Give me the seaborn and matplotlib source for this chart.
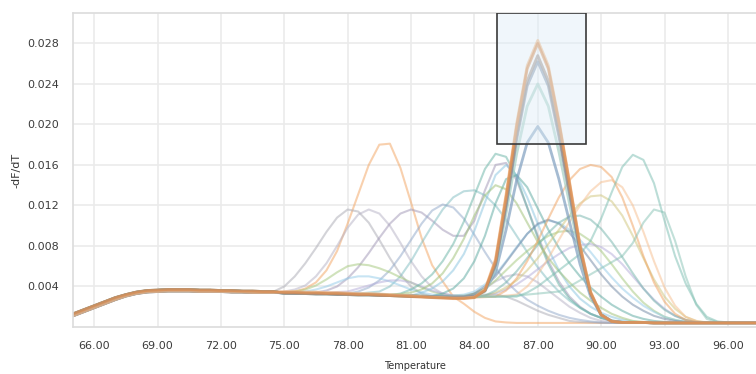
import numpy as np
import pandas as pd
import seaborn as sns
import matplotlib.pyplot as plt
from matplotlib.patches import Rectangle

# Melt curve, -dF/dT per well (values in units of 1e-3) #######################

temps = np.arange(65.0, 97.51, 0.5)

# pre-melt stretch 65.0 - 74.5, two baseline levels
early_a = [1.1, 1.5, 1.9, 2.3, 2.7, 3.05, 3.3, 3.45, 3.5, 3.55,
           3.55, 3.55, 3.5, 3.5, 3.5, 3.45, 3.45, 3.4, 3.4, 3.4]
early_b = [1.3, 1.7, 2.1, 2.5, 2.9, 3.2, 3.45, 3.6, 3.65, 3.7,
           3.7, 3.7, 3.65, 3.65, 3.6, 3.6, 3.55, 3.55, 3.5, 3.5]

# 75.0 - 97.5 ###################################################################
m1 = [3.4, 3.4, 3.35, 3.35, 3.3, 3.3, 3.25, 3.2, 3.2, 3.15,
      3.1, 3.05, 3.0, 2.95, 2.9, 2.85, 2.8, 2.8, 2.9, 3.6,
      6.5, 12.8, 19.8, 25.5, 28.0, 25.5, 20.2, 14.2, 8.0, 3.4,
      1.2, 0.55, 0.45, 0.45, 0.45, 0.4, 0.4, 0.4, 0.4, 0.4,
      0.4, 0.4, 0.4, 0.4, 0.4, 0.4]
m2 = [3.5, 3.5, 3.45, 3.45, 3.4, 3.4, 3.35, 3.3, 3.3, 3.25,
      3.2, 3.15, 3.1, 3.0, 2.95, 2.9, 2.85, 2.85, 2.95, 3.7,
      6.7, 13.1, 20.1, 25.8, 28.3, 25.8, 20.4, 14.4, 8.1, 3.5,
      1.2, 0.55, 0.45, 0.45, 0.45, 0.4, 0.4, 0.4, 0.4, 0.4,
      0.4, 0.4, 0.4, 0.4, 0.4, 0.4]
m3 = [3.3, 3.3, 3.3, 3.25, 3.25, 3.2, 3.2, 3.15, 3.15, 3.1,
      3.1, 3.05, 3.0, 3.0, 2.95, 2.95, 2.9, 2.9, 3.0, 3.6,
      6.2, 12.2, 18.9, 24.3, 26.8, 24.3, 19.2, 13.5, 7.6, 3.3,
      1.2, 0.55, 0.45, 0.45, 0.45, 0.4, 0.4, 0.4, 0.4, 0.4,
      0.4, 0.4, 0.4, 0.4, 0.4, 0.4]
m4 = [3.4, 3.35, 3.35, 3.3, 3.3, 3.25, 3.25, 3.2, 3.2, 3.15,
      3.1, 3.1, 3.05, 3.0, 3.0, 2.95, 2.95, 2.95, 3.05, 3.6,
      6.1, 11.9, 18.5, 23.8, 26.2, 23.8, 18.8, 13.2, 7.4, 3.3,
      1.2, 0.55, 0.45, 0.45, 0.45, 0.4, 0.4, 0.4, 0.4, 0.4,
      0.4, 0.4, 0.4, 0.4, 0.4, 0.4]
m5 = [3.3, 3.3, 3.3, 3.25, 3.25, 3.2, 3.2, 3.15, 3.15, 3.1,
      3.1, 3.05, 3.0, 3.0, 2.95, 2.95, 2.9, 2.9, 3.0, 3.5,
      5.8, 11.2, 17.1, 21.8, 24.0, 21.8, 17.3, 12.2, 7.0, 3.2,
      1.2, 0.55, 0.45, 0.45, 0.45, 0.4, 0.4, 0.4, 0.4, 0.4,
      0.4, 0.4, 0.4, 0.4, 0.4, 0.4]
m6 = [3.4, 3.4, 3.35, 3.35, 3.3, 3.3, 3.25, 3.25, 3.2, 3.2,
      3.15, 3.1, 3.1, 3.05, 3.0, 3.0, 2.95, 2.95, 3.05, 3.6,
      5.4, 9.6, 14.5, 18.2, 19.8, 18.2, 14.6, 10.4, 6.2, 3.0,
      1.2, 0.6, 0.45, 0.45, 0.45, 0.4, 0.4, 0.4, 0.4, 0.4,
      0.4, 0.4, 0.4, 0.4, 0.4, 0.4]

o1 = [3.4, 3.5, 3.8, 4.4, 5.6, 7.5, 10.2, 13.1, 16.0, 18.0,
      18.1, 15.7, 12.3, 8.8, 6.1, 4.5, 3.0, 2.3, 1.5, 0.9,
      0.55, 0.45, 0.4, 0.4, 0.4, 0.4, 0.4, 0.4, 0.4, 0.4,
      0.4, 0.4, 0.4, 0.4, 0.4, 0.4, 0.4, 0.4, 0.4, 0.4,
      0.4, 0.4, 0.4, 0.4, 0.4, 0.4]
o2 = [3.4, 3.4, 3.35, 3.35, 3.3, 3.3, 3.25, 3.25, 3.2, 3.2,
      3.15, 3.1, 3.05, 3.0, 2.95, 2.9, 2.9, 2.9, 2.9, 2.95,
      3.0, 3.6, 4.8, 6.5, 8.5, 10.7, 12.8, 14.5, 15.6, 16.0,
      15.8, 14.8, 12.8, 10.0, 7.0, 4.4, 2.5, 1.3, 0.7, 0.5,
      0.4, 0.4, 0.4, 0.4, 0.4, 0.4]
o3 = [3.4, 3.4, 3.35, 3.35, 3.3, 3.3, 3.25, 3.25, 3.2, 3.2,
      3.15, 3.1, 3.1, 3.05, 3.0, 3.0, 2.95, 2.95, 2.95, 3.0,
      3.0, 3.1, 3.2, 4.0, 5.2, 6.8, 8.6, 10.4, 12.0, 13.4,
      14.3, 14.5, 13.8, 12.0, 9.4, 6.5, 3.9, 2.1, 1.0, 0.6,
      0.4, 0.4, 0.4, 0.4, 0.4, 0.4]

g1 = [4.0, 5.0, 6.3, 7.8, 9.4, 10.8, 11.6, 11.4, 10.3, 8.6,
      6.8, 5.2, 4.0, 3.3, 3.0, 2.9, 2.9, 3.0, 3.1, 3.2,
      3.2, 3.0, 2.6, 2.1, 1.6, 1.2, 0.9, 0.6, 0.5, 0.45,
      0.4, 0.4, 0.4, 0.4, 0.4, 0.4, 0.4, 0.4, 0.4, 0.4,
      0.4, 0.4, 0.4, 0.4, 0.4, 0.4]
g2 = [3.5, 3.7, 4.1, 5.0, 6.3, 8.0, 9.8, 11.1, 11.6, 11.2,
      10.0, 8.3, 6.5, 5.0, 3.9, 3.3, 3.1, 3.1, 3.3, 3.8,
      4.5, 5.0, 5.2, 5.0, 4.4, 3.6, 2.8, 2.0, 1.4, 0.9,
      0.6, 0.5, 0.4, 0.4, 0.4, 0.4, 0.4, 0.4, 0.4, 0.4,
      0.4, 0.4, 0.4, 0.4, 0.4, 0.4]
g3 = [3.3, 3.3, 3.3, 3.4, 3.6, 4.0, 4.8, 5.9, 7.3, 8.8,
      10.2, 11.2, 11.6, 11.3, 10.5, 9.6, 9.0, 9.0, 10.5, 13.5,
      16.0, 16.2, 14.5, 11.8, 9.0, 6.5, 4.5, 3.0, 2.0, 1.3,
      0.9, 0.6, 0.5, 0.4, 0.4, 0.4, 0.4, 0.4, 0.4, 0.4,
      0.4, 0.4, 0.4, 0.4, 0.4, 0.4]

t1 = [3.35, 3.35, 3.3, 3.3, 3.3, 3.25, 3.25, 3.3, 3.4, 3.5,
      4.0, 5.0, 6.5, 8.3, 10.0, 11.6, 12.8, 13.4, 13.5, 13.0,
      12.0, 10.6, 9.0, 7.4, 5.9, 4.6, 3.5, 2.6, 1.9, 1.3,
      0.9, 0.6, 0.5, 0.4, 0.4, 0.4, 0.4, 0.4, 0.4, 0.4,
      0.4, 0.4, 0.4, 0.4, 0.4, 0.4]
t2 = [3.4, 3.35, 3.35, 3.3, 3.3, 3.25, 3.25, 3.2, 3.2, 3.15,
      3.15, 3.3, 3.7, 4.3, 5.2, 6.5, 8.2, 10.4, 13.0, 15.6,
      17.1, 16.8, 14.8, 11.8, 8.8, 6.2, 4.2, 2.8, 1.9, 1.3,
      0.9, 0.65, 0.5, 0.4, 0.4, 0.4, 0.4, 0.4, 0.4, 0.4,
      0.4, 0.4, 0.4, 0.4, 0.4, 0.4]
t3 = [3.3, 3.3, 3.3, 3.25, 3.25, 3.2, 3.2, 3.2, 3.15, 3.15,
      3.1, 3.1, 3.1, 3.4, 3.8, 4.5, 5.6, 7.2, 9.5, 12.3,
      15.0, 16.0, 15.0, 12.8, 10.2, 7.7, 5.6, 4.0, 2.8, 2.0,
      1.4, 1.0, 0.7, 0.55, 0.45, 0.4, 0.4, 0.4, 0.4, 0.4,
      0.4, 0.4, 0.4, 0.4, 0.4, 0.4]
t4 = [3.4, 3.4, 3.35, 3.35, 3.3, 3.3, 3.25, 3.25, 3.2, 3.2,
      3.15, 3.1, 3.1, 3.05, 3.05, 3.3, 3.8, 4.8, 6.5, 9.0,
      12.2, 14.6, 15.0, 13.8, 11.7, 9.6, 7.8, 6.3, 5.0, 3.9,
      3.0, 2.2, 1.6, 1.1, 0.8, 0.6, 0.5, 0.4, 0.4, 0.4,
      0.4, 0.4, 0.4, 0.4, 0.4, 0.4]
t5 = [3.35, 3.35, 3.3, 3.3, 3.3, 3.25, 3.25, 3.2, 3.2, 3.2,
      3.2, 3.25, 3.4, 3.7, 4.3, 5.3, 6.8, 8.7, 11.0, 13.0,
      14.0, 13.6, 12.2, 10.3, 8.4, 6.8, 5.5, 4.4, 3.4, 2.6,
      1.9, 1.3, 0.9, 0.6, 0.5, 0.4, 0.4, 0.4, 0.4, 0.4,
      0.4, 0.4, 0.4, 0.4, 0.4, 0.4]
t6 = [3.4, 3.4, 3.35, 3.35, 3.3, 3.3, 3.25, 3.25, 3.2, 3.2,
      3.15, 3.1, 3.1, 3.05, 3.0, 3.0, 2.95, 2.95, 2.95, 3.1,
      3.6, 4.4, 5.5, 6.8, 8.1, 9.3, 10.3, 10.9, 11.0, 10.6,
      9.7, 8.4, 6.9, 5.3, 3.8, 2.6, 1.7, 1.1, 0.7, 0.5,
      0.4, 0.4, 0.4, 0.4, 0.4, 0.4]
t7 = [3.4, 3.4, 3.35, 3.35, 3.3, 3.3, 3.25, 3.25, 3.2, 3.2,
      3.15, 3.1, 3.1, 3.05, 3.0, 3.0, 2.95, 2.95, 2.95, 3.0,
      3.0, 3.0, 3.0, 3.4, 4.0, 4.8, 5.6, 6.4, 7.2, 8.5,
      10.7, 13.3, 15.8, 17.0, 16.5, 14.2, 10.5, 7.0, 4.3, 2.3,
      1.0, 0.55, 0.45, 0.4, 0.4, 0.4]
t8 = [3.35, 3.35, 3.3, 3.3, 3.3, 3.25, 3.25, 3.2, 3.2, 3.2,
      3.15, 3.15, 3.1, 3.1, 3.05, 3.05, 3.0, 3.0, 3.0, 3.0,
      3.0, 3.0, 3.1, 3.2, 3.3, 3.4, 3.5, 4.0, 4.6, 5.2,
      5.8, 6.4, 7.0, 8.3, 10.3, 11.6, 11.3, 8.5, 5.0, 2.2,
      0.8, 0.5, 0.4, 0.4, 0.4, 0.4]

b1 = [3.3, 3.3, 3.3, 3.25, 3.25, 3.25, 3.3, 3.5, 3.9, 4.6,
      5.6, 7.0, 8.6, 10.2, 11.5, 12.1, 11.8, 10.7, 9.1, 7.4,
      5.8, 4.5, 3.5, 2.7, 2.1, 1.6, 1.2, 0.9, 0.7, 0.55,
      0.45, 0.4, 0.4, 0.4, 0.4, 0.4, 0.4, 0.4, 0.4, 0.4,
      0.4, 0.4, 0.4, 0.4, 0.4, 0.4]
l1 = [3.4, 3.5, 3.7, 4.1, 4.7, 5.4, 6.0, 6.2, 6.1, 5.8,
      5.4, 4.9, 4.4, 3.9, 3.5, 3.2, 3.1, 3.1, 3.3, 3.8,
      4.6, 5.6, 6.6, 7.5, 8.3, 9.0, 9.4, 9.5, 9.2, 8.5,
      7.5, 6.2, 4.8, 3.5, 2.4, 1.6, 1.0, 0.7, 0.5, 0.4,
      0.4, 0.4, 0.4, 0.4, 0.4, 0.4]
l2 = [3.3, 3.4, 3.5, 3.7, 4.0, 4.4, 4.8, 5.0, 5.0, 4.8,
      4.5, 4.1, 3.7, 3.4, 3.2, 3.1, 3.1, 3.2, 3.5, 4.2,
      5.2, 6.5, 7.9, 9.2, 10.1, 10.5, 10.3, 9.6, 8.6, 7.4,
      6.1, 4.9, 3.8, 2.9, 2.1, 1.5, 1.0, 0.7, 0.5, 0.4,
      0.4, 0.4, 0.4, 0.4, 0.4, 0.4]
l3 = [3.3, 3.3, 3.3, 3.35, 3.4, 3.45, 3.5, 3.8, 4.1, 4.4,
      4.6, 4.6, 4.4, 4.0, 3.6, 3.3, 3.1, 3.0, 3.0, 3.1,
      3.3, 3.7, 4.2, 4.9, 5.7, 6.5, 7.2, 7.8, 8.1, 8.2,
      7.9, 7.2, 6.2, 5.0, 3.8, 2.7, 1.8, 1.1, 0.7, 0.5,
      0.4, 0.4, 0.4, 0.4, 0.4, 0.4]
d1 = [3.4, 3.4, 3.35, 3.35, 3.3, 3.3, 3.25, 3.25, 3.2, 3.2,
      3.15, 3.1, 3.1, 3.05, 3.0, 3.0, 2.95, 3.0, 3.3, 4.0,
      5.0, 6.4, 7.8, 9.2, 10.2, 10.6, 10.2, 9.3, 8.0, 6.6,
      5.2, 4.0, 3.0, 2.2, 1.6, 1.1, 0.8, 0.6, 0.5, 0.4,
      0.4, 0.4, 0.4, 0.4, 0.4, 0.4]
y1 = [3.35, 3.35, 3.3, 3.3, 3.3, 3.25, 3.25, 3.2, 3.2, 3.2,
      3.15, 3.15, 3.1, 3.1, 3.05, 3.05, 3.0, 3.0, 3.0, 3.1,
      3.4, 3.9, 4.6, 5.6, 6.8, 8.2, 9.6, 11.0, 12.2, 12.9,
      13.0, 12.4, 11.0, 9.0, 6.8, 4.7, 3.0, 1.8, 1.0, 0.6,
      0.45, 0.4, 0.4, 0.4, 0.4, 0.4]

# well -> (pre-melt stretch, melt stretch, colour)
faint_wells = {
    "O1": (early_a, o1, "#f3a35e"),
    "G1": (early_b, g1, "#a9a9b3"),
    "G2": (early_a, g2, "#b4b0c4"),
    "G3": (early_b, g3, "#9f95b5"),
    "T1": (early_a, t1, "#7fbcc0"),
    "B1": (early_b, b1, "#8ea6c8"),
    "L1": (early_a, l1, "#a3c77a"),
    "L2": (early_b, l2, "#92cbe9"),
    "L3": (early_a, l3, "#b3abd9"),
    "T2": (early_b, t2, "#66b2a4"),
    "T3": (early_a, t3, "#86c3df"),
    "T4": (early_b, t4, "#58a79e"),
    "T5": (early_a, t5, "#9cbf72"),
    "D1": (early_b, d1, "#6f86a3"),
    "Y1": (early_a, y1, "#cfc57a"),
    "T6": (early_b, t6, "#72b3aa"),
    "O2": (early_a, o2, "#f0a05c"),
    "O3": (early_b, o3, "#f6bd8c"),
    "T7": (early_a, t7, "#79bdb0"),
    "T8": (early_b, t8, "#86c2b4"),
}
main_wells = {
    "M6": (early_a, m6, "#7f9fbf"),
    "M5": (early_b, m5, "#a6cfc4"),
    "M4": (early_a, m4, "#8090a8"),
    "M3": (early_b, m3, "#9a8a80"),
    "M2": (early_a, m2, "#f2b27a"),
    "M1": (early_b, m1, "#d98a4e"),
}


def to_long(wells):
    rows = []
    for name, (early, late, _) in wells.items():
        vals = np.array(early + late) / 1000.0
        rows.append(pd.DataFrame({"Temperature": temps, "dfdt": vals, "well": name}))
    return pd.concat(rows, ignore_index=True)


df_faint = to_long(faint_wells)
df_main = to_long(main_wells)

# Plot ########################################################################

sns.set_style("white")
plt.rcParams["font.family"] = ["DejaVu Sans"]

fig = plt.figure(figsize=(7.56, 3.74), dpi=100)
ax = fig.add_axes([73 / 756, 47 / 374, 683 / 756, 314 / 374])

sns.lineplot(data=df_faint, x="Temperature", y="dfdt", hue="well",
             palette={k: v[2] for k, v in faint_wells.items()},
             estimator=None, legend=False, linewidth=1.5, alpha=0.5, ax=ax)
sns.lineplot(data=df_main, x="Temperature", y="dfdt", hue="well",
             palette={k: v[2] for k, v in main_wells.items()},
             estimator=None, legend=False, linewidth=2.0, alpha=0.7, ax=ax)

# selected region
ax.add_patch(Rectangle((85.07, 0.0181), 4.21, 0.0129, facecolor=(0.87, 0.93, 0.97, 0.45),
                       edgecolor="#3a3a3a", linewidth=1.2, zorder=5))

ax.set_xlim(65.0, 97.33)
ax.set_ylim(0, 0.031)
ax.set_xticks(np.arange(66, 97, 3))
ax.set_xticklabels([f"{t:.2f}" for t in np.arange(66, 97, 3)])
ax.set_yticks(np.arange(0.004, 0.0281, 0.004))
ax.set_yticklabels([f"{v:.3f}" for v in np.arange(0.004, 0.0281, 0.004)])

ax.grid(True, color="#ebebeb", linewidth=1.2)
ax.set_axisbelow(True)
ax.tick_params(axis="x", length=0, pad=10, labelsize=8, labelcolor="#3c3c3c")
ax.tick_params(axis="y", length=8, width=1.2, color="#ebebeb", pad=2,
               labelsize=8, labelcolor="#3c3c3c")
for side in ["top", "left", "bottom"]:
    ax.spines[side].set_color("#dcdcdc")
    ax.spines[side].set_linewidth(1.2)
ax.spines["right"].set_visible(False)

ax.set_xlabel("Temperature", fontsize=7, color="#333333")
ax.set_ylabel("-dF/dT", fontsize=8, color="#333333")
ax.xaxis.set_label_coords(0.5, -0.108)
ax.yaxis.set_label_coords(-0.076, 0.5)

plt.savefig("out.png", dpi=100)
